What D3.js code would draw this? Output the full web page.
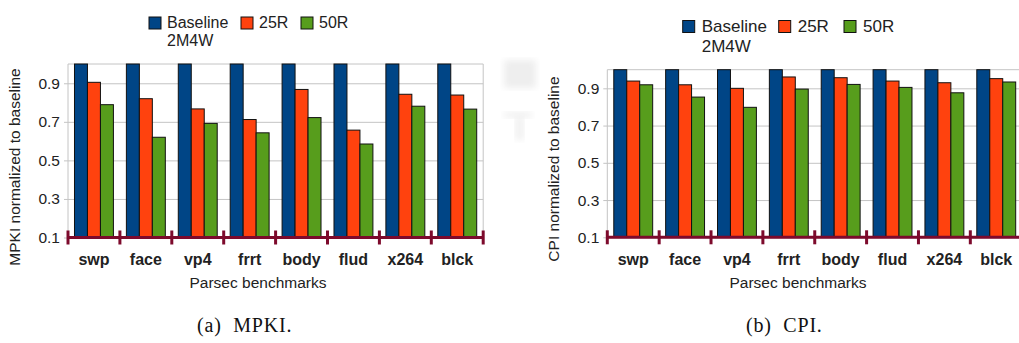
<!DOCTYPE html>
<html lang="en">
<head>
    <meta charset="UTF-8">
    <title>MPKI and CPI normalized to baseline</title>
    <script src="https://d3js.org/d3.v7.min.js"></script>
    <style>
        body { margin: 0; background: #fff; }
        svg { display: block; }
        text { font-family: "Liberation Sans", Arial, sans-serif; fill: #222; }
        .caption { font-family: "Liberation Serif", "DejaVu Serif", serif; fill: #111; }
    </style>
</head>
<body>
    <svg width="1019" height="343"></svg>
    <script>
        // Data
        const benchmarks = ["swp", "face", "vp4", "frrt", "body", "flud", "x264", "blck"];
        const seriesNames = ["Baseline 2M4W", "25R", "50R"];
        const seriesColors = ["#004586", "#ff420e", "#579d1c"];
        const yTicks = [0.1, 0.3, 0.5, 0.7, 0.9];

        const baseline = [1, 1, 1, 1, 1, 1, 1, 1];
        const mpki25R = [0.905, 0.82, 0.767, 0.712, 0.868, 0.657, 0.843, 0.839];
        const mpki50R = [0.789, 0.62, 0.692, 0.643, 0.722, 0.585, 0.781, 0.766];
        const cpi25R = [0.939, 0.919, 0.9, 0.961, 0.957, 0.939, 0.93, 0.952];
        const cpi50R = [0.919, 0.853, 0.798, 0.896, 0.921, 0.905, 0.876, 0.934];

        const svg = d3.select("svg");

        // faint scan artifacts between the two panels
        const blur = svg.append("defs").append("filter").attr("id", "blur");
        blur.append("feGaussianBlur").attr("stdDeviation", 3);
        svg.append("rect").attr("x", 504).attr("y", 60).attr("width", 32).attr("height", 28)
            .attr("fill", "#eeeeee").attr("filter", "url(#blur)");
        svg.append("rect").attr("x", 504).attr("y", 112).attr("width", 28).attr("height", 6)
            .attr("fill", "#f1f1f1").attr("filter", "url(#blur)");
        svg.append("rect").attr("x", 515).attr("y", 116).attr("width", 9).attr("height", 24)
            .attr("fill", "#f1f1f1").attr("filter", "url(#blur)");

        function drawPanel(p) {
            const g = svg.append("g");

            const x = d3.scaleBand()
                .domain(benchmarks)
                .range([p.left, p.left + p.step * benchmarks.length])
                .paddingInner(0.25)
                .paddingOuter(0.125);

            const xs = d3.scaleBand()
                .domain(d3.range(seriesNames.length))
                .range([0, x.bandwidth()]);

            const y = d3.scaleLinear()
                .domain([0.1, 1.0])
                .range([p.bottom, p.top]);

            const right = p.left + p.step * benchmarks.length;

            // gridlines + y tick labels
            g.append("g")
                .attr("transform", `translate(${p.left},0)`)
                .call(d3.axisLeft(y).tickValues(yTicks).tickSize(-(right - p.left)).tickSizeOuter(0)
                    .tickPadding(8).tickFormat(d3.format(".1f")))
                .call(a => a.select(".domain").remove())
                .call(a => a.selectAll(".tick line").attr("stroke", "#c4c4c4").attr("x1", -4))
                .call(a => a.selectAll(".tick text").attr("font-size", p.font).attr("fill", "#222")
                    .style("font-family", "'Liberation Sans', Arial, sans-serif"));

            // plot frame (gray)
            g.append("path")
                .attr("d", `M${p.left},${p.bottom}V${p.top}H${right}V${p.bottom}`)
                .attr("fill", "none")
                .attr("stroke", "#c4c4c4");

            // bars
            const series = [baseline, p.s25, p.s50];
            series.forEach((vals, si) => {
                g.append("g").selectAll("rect")
                    .data(vals)
                    .join("rect")
                    .attr("x", (d, i) => x(benchmarks[i]) + xs(si))
                    .attr("y", d => y(d))
                    .attr("width", xs.bandwidth())
                    .attr("height", d => y(0.1) - y(d))
                    .attr("fill", seriesColors[si])
                    .attr("stroke", "#111")
                    .attr("stroke-width", 1);
            });

            // maroon category axis with crossing ticks at boundaries
            const bounds = d3.range(benchmarks.length + 1).map(i => p.left + i * p.step);
            g.append("line")
                .attr("x1", p.left).attr("x2", right)
                .attr("y1", y(0.1)).attr("y2", y(0.1))
                .attr("stroke", "#7d0a2c").attr("stroke-width", 3);
            g.append("g").selectAll("line")
                .data(bounds)
                .join("line")
                .attr("x1", d => d).attr("x2", d => d)
                .attr("y1", y(0.1) - 7).attr("y2", y(0.1) + 7)
                .attr("stroke", "#7d0a2c").attr("stroke-width", 3);

            // category labels
            g.append("g").selectAll("text")
                .data(benchmarks)
                .join("text")
                .attr("x", d => x(d) + x.bandwidth() / 2)
                .attr("y", 265)
                .attr("text-anchor", "middle")
                .attr("font-size", p.font + 0.5)
                .attr("font-weight", "bold")
                .text(d => d);

            // axis titles
            g.append("text")
                .attr("x", p.xTitleX)
                .attr("y", 288)
                .attr("text-anchor", "middle")
                .attr("font-size", p.font)
                .text("Parsec benchmarks");

            g.append("text")
                .attr("transform", `translate(${p.yTitleX},${p.yTitleY}) rotate(-90)`)
                .attr("text-anchor", "middle")
                .attr("font-size", p.font)
                .text(p.yTitle);

            // legend
            const lg = g.append("g");
            seriesNames.forEach((name, si) => {
                lg.append("rect")
                    .attr("x", p.legendX[si])
                    .attr("y", p.legendY - p.sq + 1)
                    .attr("width", p.sq).attr("height", p.sq)
                    .attr("fill", seriesColors[si])
                    .attr("stroke", "#111");
                const t = lg.append("text")
                    .attr("x", p.legendX[si] + p.sq + p.gap)
                    .attr("y", p.legendY)
                    .attr("font-size", p.legendFont);
                const parts = name === "Baseline 2M4W" ? ["Baseline", "2M4W"] : [name];
                parts.forEach((s, k) => {
                    t.append("tspan")
                        .attr("x", p.legendX[si] + p.sq + p.gap)
                        .attr("dy", k === 0 ? 0 : p.lineH)
                        .text(s);
                });
            });

            // caption
            svg.append("text")
                .attr("class", "caption")
                .attr("x", p.capX)
                .attr("y", 332)
                .attr("font-size", 20)
                .attr("letter-spacing", 0.8)
                .attr("xml:space", "preserve")
                .text(p.caption);
        }

        drawPanel({
            left: 68, step: 51.9, top: 64, bottom: 237.5,
            s25: mpki25R, s50: mpki50R,
            font: 15.5, yTitle: "MPKI normalized to baseline", yTitleX: 20, yTitleY: 167,
            xTitleX: 258,
            legendX: [149, 241, 301], legendY: 28, sq: 12, gap: 6, legendFont: 16, lineH: 18,
            capX: 197, caption: "(a)  MPKI."
        });

        drawPanel({
            left: 607.3, step: 51.86, top: 69.7, bottom: 237.3,
            s25: cpi25R, s50: cpi50R,
            font: 15.5, yTitle: "CPI normalized to baseline", yTitleX: 559, yTitleY: 169,
            xTitleX: 798,
            legendX: [682.7, 778.7, 844], legendY: 31.5, sq: 12, gap: 7, legendFont: 17, lineH: 20,
            capX: 746, caption: "(b)  CPI."
        });
    </script>
</body>
</html>
